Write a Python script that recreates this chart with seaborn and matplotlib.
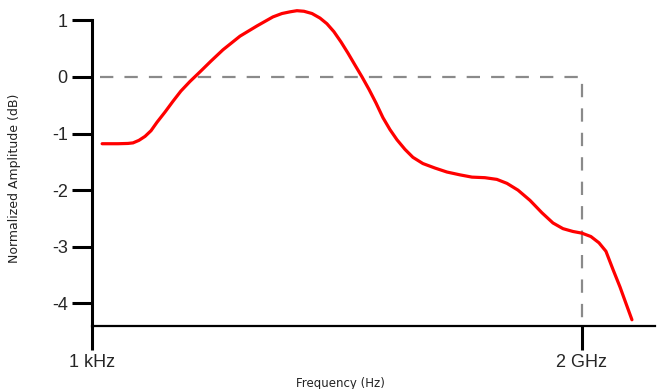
import numpy as np
import pandas as pd
import matplotlib
matplotlib.use("Agg")
import matplotlib.pyplot as plt
from matplotlib.ticker import NullLocator
import seaborn as sns

# ── Data ─────────────────────────────────────────────────────────────────────
freq_hz = [1.35e3, 2.16e3, 2.9e3, 3.37e3, 4.02e3, 4.81e3, 5.74e3, 6.86e3,
           8.69e3, 1.10e4, 1.39e4, 1.82e4, 2.45e4, 3.39e4, 4.84e4, 8.0e4,
           1.32e5, 2.12e5, 2.77e5, 3.52e5, 4.32e5, 5.32e5, 6.75e5, 8.55e5,
           1.05e6, 1.29e6, 1.59e6, 1.96e6, 2.41e6, 2.97e6, 3.65e6, 4.49e6,
           5.52e6, 6.79e6, 8.36e6, 1.06e7, 1.34e7, 1.80e7, 2.58e7, 3.67e7,
           5.40e7, 7.70e7, 1.13e8, 1.61e8, 2.17e8, 3.01e8, 4.29e8, 6.12e8,
           8.48e8, 1.14e9, 1.53e9, 2.0e9, 2.61e9, 3.31e9, 4.07e9, 5.01e9,
           6.17e9, 7.36e9, 8.79e9]
amp_db = [-1.18, -1.18, -1.175, -1.165, -1.12, -1.05, -0.95, -0.80,
          -0.62, -0.43, -0.25, -0.08, 0.09, 0.28, 0.48, 0.72,
          0.90, 1.06, 1.12, 1.15, 1.17, 1.16, 1.12, 1.04,
          0.94, 0.80, 0.62, 0.42, 0.21, 0.0, -0.22, -0.46,
          -0.72, -0.93, -1.11, -1.28, -1.42, -1.53, -1.61, -1.68,
          -1.73, -1.77, -1.78, -1.81, -1.88, -2.00, -2.18, -2.40,
          -2.58, -2.68, -2.73, -2.76, -2.82, -2.93, -3.08, -3.40,
          -3.71, -4.00, -4.29]

ref_x = [1.27e3, 2.0e9, 2.0e9]
ref_y = [0.0, 0.0, -4.4]

xticks = [1e3, 2e9]
xtick_labels = ["1 kHz", "2 GHz"]
yticks = [1, 0, -1, -2, -3, -4]

df = pd.DataFrame({"freq": freq_hz, "amp": amp_db})

# ── Style ────────────────────────────────────────────────────────────────────
sns.set_style("white")
plt.rcParams["font.family"] = ["Liberation Sans", "DejaVu Sans"]

fig = plt.figure(figsize=(6.57, 3.89), dpi=100)
ax = fig.add_axes([92 / 657, 1 - 326 / 389, (655 - 92) / 657, (326 - 9) / 389])

ax.plot(ref_x, ref_y, color="#8a8a8a", linewidth=1.6,
        linestyle=(0, (6, 5)))
sns.lineplot(data=df, x="freq", y="amp", sort=False, ax=ax,
             color="#ff0000", linewidth=2.3, solid_joinstyle="round",
             solid_capstyle="round")

ax.set_xscale("log")
ax.set_xlim(1e3, 1.74e10)
ax.set_ylim(-4.4, 1.2)
ax.xaxis.set_minor_locator(NullLocator())

ax.set_xticks(xticks)
ax.set_xticklabels(xtick_labels)
ax.set_yticks(yticks)
ax.set_yticklabels([str(v) for v in yticks])

ax.tick_params(axis="x", direction="out", length=17, width=2.2,
               color="black", labelsize=13, pad=3, bottom=True)
ax.tick_params(axis="y", direction="out", length=14.5, width=2.2,
               color="black", labelsize=13, pad=3, left=True)

for side in ["top", "right"]:
    ax.spines[side].set_visible(False)
ax.spines["left"].set_linewidth(2.2)
ax.spines["left"].set_color("black")
ax.spines["left"].set_bounds(-4.4, 1)
ax.spines["bottom"].set_linewidth(1.6)
ax.spines["bottom"].set_color("black")

ax.set_xlabel("Frequency (Hz)", fontsize=8.5, family="DejaVu Sans",
              color="#222222")
ax.set_ylabel("Normalized Amplitude (dB)", fontsize=9, family="DejaVu Sans",
              color="#222222")
ax.xaxis.set_label_coords((340 - 92) / (655 - 92), -(377 - 326) / (326 - 9))
ax.yaxis.set_label_coords(-(92 - 21) / (655 - 92), (326 - 178) / (326 - 9))

fig.savefig("out.png", dpi=100, facecolor="white")
plt.close(fig)
